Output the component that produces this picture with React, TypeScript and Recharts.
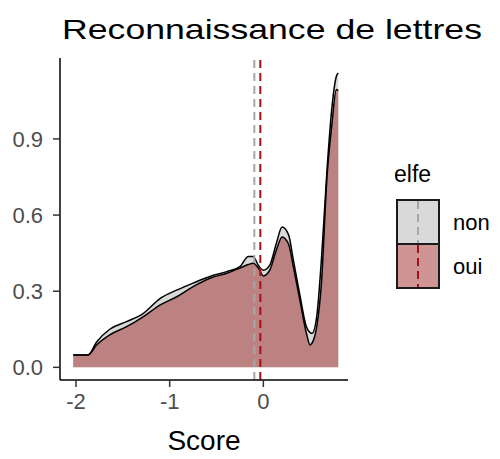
import React from "react";
import {
  ComposedChart,
  Area,
  XAxis,
  YAxis,
  ReferenceLine,
} from "recharts";

// score grid (x) and the two density curves
const scores = [
  -2.03, -1.87, -1.78, -1.64, -1.46, -1.28, -1.1, -0.92, -0.75, -0.57, -0.39,
  -0.25, -0.16, -0.11, -0.05, 0.0, 0.07, 0.14, 0.2, 0.27, 0.32, 0.39, 0.46,
  0.5, 0.52, 0.57, 0.62, 0.68, 0.73, 0.78, 0.8,
];
const densityNon = [
  0.049, 0.049, 0.1, 0.15, 0.18, 0.213, 0.272, 0.305, 0.332, 0.358, 0.377,
  0.397, 0.437, 0.437, 0.4, 0.383, 0.404, 0.49, 0.553, 0.522, 0.424, 0.285,
  0.16, 0.137, 0.134, 0.2, 0.424, 0.779, 1.016, 1.147, 1.16,
];
const densityOui = [
  0.049, 0.049, 0.088, 0.128, 0.16, 0.2, 0.246, 0.279, 0.318, 0.351, 0.371,
  0.391, 0.405, 0.41, 0.39, 0.36, 0.384, 0.463, 0.514, 0.485, 0.397, 0.266,
  0.134, 0.088, 0.095, 0.16, 0.33, 0.752, 0.95, 1.095, 1.09,
];

// group means (dashed lines)
const meanNon = -0.096;
const meanOui = -0.032;

const xTicks = [-2, -1, 0];
const yTicks = [0, 0.3, 0.6, 0.9];
const groups = ["non", "oui"];

const data = scores.map((s, i) => ({
  score: s,
  non: densityNon[i],
  oui: densityOui[i],
}));

const FONT = "'Liberation Sans', Arial, sans-serif";
const GREY_FILL = "#b3b3b3";
const RED_FILL = "#9f2b2b";
const GREY_LINE = "#a6a6a6";
const RED_LINE = "#a50f15";

function Legend() {
  const keyColors = [
    { fill: GREY_FILL, line: GREY_LINE },
    { fill: RED_FILL, line: RED_LINE },
  ];
  return (
    <div style={{ position: "absolute", left: 380, top: 150, fontFamily: FONT }}>
      <svg width={120} height={150}>
        <text x={14} y={32} fontSize={23} fill="#000">
          elfe
        </text>
        {groups.map((g, i) => (
          <g key={g}>
            <rect
              x={17}
              y={50 + i * 44}
              width={42}
              height={44}
              fill={keyColors[i].fill}
              fillOpacity={0.5}
              stroke="#1a1a1a"
              strokeWidth={2}
            />
            <line
              x1={38}
              x2={38}
              y1={51 + i * 44}
              y2={93 + i * 44}
              stroke={keyColors[i].line}
              strokeWidth={2}
              strokeDasharray="8 5"
            />
            <text x={73} y={80 + i * 44} fontSize={22} fill="#000">
              {g}
            </text>
          </g>
        ))}
      </svg>
    </div>
  );
}

export default function App() {
  return (
    <div
      style={{
        position: "absolute",
        left: 0,
        top: 0,
        width: 500,
        height: 459,
        background: "#fff",
        fontFamily: FONT,
      }}
    >
      <svg
        width={500}
        height={50}
        style={{ position: "absolute", left: 0, top: 0 }}
      >
        <text
          x={62}
          y={38.5}
          fontSize={28}
          fill="#000"
          textLength={420}
          lengthAdjust="spacingAndGlyphs"
        >
          Reconnaissance de lettres
        </text>
      </svg>

      <ComposedChart
        width={500}
        height={459}
        data={data}
        margin={{ top: 58, right: 152, bottom: 9, left: 10 }}
      >
        <XAxis
          dataKey="score"
          type="number"
          domain={[-2.171, 0.904]}
          ticks={xTicks}
          allowDataOverflow
          height={70}
          tickSize={7}
          tickMargin={6}
          axisLine={{ stroke: "#000", strokeWidth: 1.5 }}
          tickLine={{ stroke: "#333", strokeWidth: 1.5 }}
          tick={{ fontSize: 22, fill: "#4d4d4d", fontFamily: FONT }}
          label={{
            value: "Score",
            position: "insideBottom",
            offset: 0,
            fontSize: 28,
            fill: "#000",
            fontFamily: FONT,
          }}
        />
        <YAxis
          type="number"
          domain={[-0.05, 1.219]}
          ticks={yTicks}
          allowDataOverflow
          width={50}
          tickSize={7}
          tickMargin={10}
          tickFormatter={(v: number) => v.toFixed(1)}
          axisLine={{ stroke: "#000", strokeWidth: 1.5 }}
          tickLine={{ stroke: "#333", strokeWidth: 1.5 }}
          tick={{ fontSize: 22, fill: "#4d4d4d", fontFamily: FONT }}
        />
        <Area
          type="monotone"
          dataKey="non"
          baseValue={0}
          stroke="#000"
          strokeWidth={1.5}
          fill={GREY_FILL}
          fillOpacity={0.5}
          isAnimationActive={false}
          dot={false}
          activeDot={false}
        />
        <Area
          type="monotone"
          dataKey="oui"
          baseValue={0}
          stroke="#000"
          strokeWidth={1.5}
          fill={RED_FILL}
          fillOpacity={0.5}
          isAnimationActive={false}
          dot={false}
          activeDot={false}
        />
        <ReferenceLine
          x={meanNon}
          stroke={GREY_LINE}
          strokeWidth={2}
          strokeDasharray="8 5"
        />
        <ReferenceLine
          x={meanOui}
          stroke={RED_LINE}
          strokeWidth={2}
          strokeDasharray="8 5"
        />
      </ComposedChart>

      <Legend />
    </div>
  );
}
